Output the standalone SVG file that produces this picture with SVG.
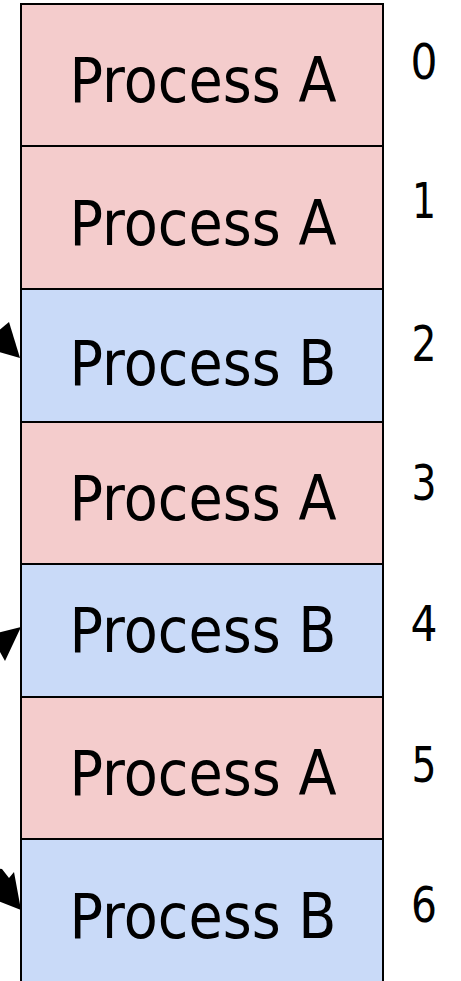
<svg xmlns="http://www.w3.org/2000/svg" width="461" height="981" viewBox="0 0 461 981">
  <style>
    .a { fill: #f4cccc; stroke: #000; stroke-width: 2; }
    .b { fill: #c9daf8; stroke: #000; stroke-width: 2; }
    .lbl { font-family: "DejaVu Sans", "Liberation Sans", sans-serif; font-size: 62px; fill: #000; text-anchor: middle; }
    .idx { font-family: "DejaVu Sans", "Liberation Sans", sans-serif; font-size: 50px; fill: #000; text-anchor: middle; }
    .head { fill: #000; }
  </style>
  <rect width="461" height="981" fill="#fff"/>

  <g id="slot0">
    <rect class="a" x="21" y="4" width="362" height="142"/>
    <text class="lbl" x="203" y="102" textLength="267" lengthAdjust="spacingAndGlyphs">Process A</text>
    <text class="idx" x="424" y="79" textLength="27" lengthAdjust="spacingAndGlyphs">0</text>
  </g>
  <g id="slot1">
    <rect class="a" x="21" y="146" width="362" height="143"/>
    <text class="lbl" x="203" y="245" textLength="267" lengthAdjust="spacingAndGlyphs">Process A</text>
    <text class="idx" x="424" y="218" textLength="24" lengthAdjust="spacingAndGlyphs">1</text>
  </g>
  <g id="slot2">
    <rect class="b" x="21" y="289" width="362" height="133"/>
    <text class="lbl" x="203" y="385" textLength="267" lengthAdjust="spacingAndGlyphs">Process B</text>
    <text class="idx" x="424" y="361" textLength="25" lengthAdjust="spacingAndGlyphs">2</text>
  </g>
  <g id="slot3">
    <rect class="a" x="21" y="422" width="362" height="142"/>
    <text class="lbl" x="203" y="520" textLength="267" lengthAdjust="spacingAndGlyphs">Process A</text>
    <text class="idx" x="424" y="500" textLength="25" lengthAdjust="spacingAndGlyphs">3</text>
  </g>
  <g id="slot4">
    <rect class="b" x="21" y="564" width="362" height="133"/>
    <text class="lbl" x="203" y="652" textLength="267" lengthAdjust="spacingAndGlyphs">Process B</text>
    <text class="idx" x="424" y="641" textLength="27" lengthAdjust="spacingAndGlyphs">4</text>
  </g>
  <g id="slot5">
    <rect class="a" x="21" y="697" width="362" height="142"/>
    <text class="lbl" x="203" y="795" textLength="267" lengthAdjust="spacingAndGlyphs">Process A</text>
    <text class="idx" x="424" y="782" textLength="25" lengthAdjust="spacingAndGlyphs">5</text>
  </g>
  <g id="slot6">
    <rect class="b" x="21" y="839" width="362" height="160"/>
    <text class="lbl" x="203" y="938" textLength="267" lengthAdjust="spacingAndGlyphs">Process B</text>
    <text class="idx" x="424" y="922" textLength="26" lengthAdjust="spacingAndGlyphs">6</text>
  </g>

  <!-- incoming connector heads, lines run off the left edge -->
  <g id="connectors">
    <polygon class="head" points="20,358 9,322 -3,332 -15,348"/>
    <polygon class="head" points="21,627 5,661 -4,645 -15,636"/>
    <polygon class="head" points="21,910 14,872 9,878 2,869 -6,868 -10,898"/>
  </g>
</svg>
